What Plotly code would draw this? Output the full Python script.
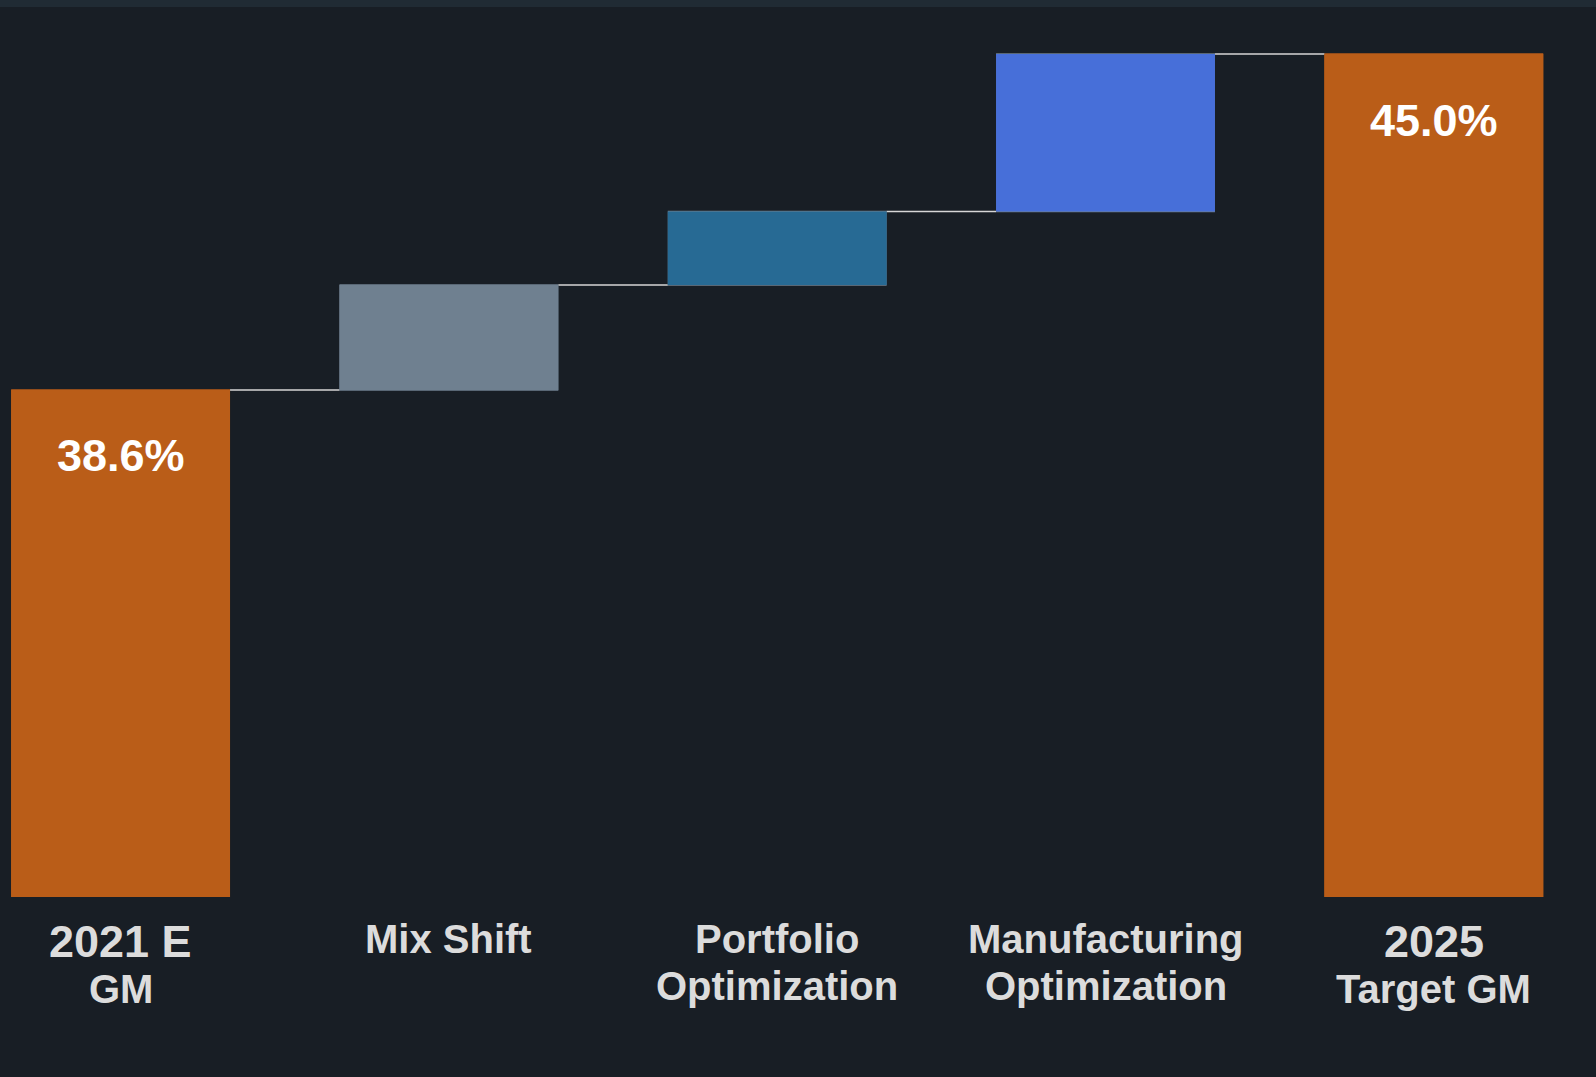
import plotly.graph_objects as go

# data
categories = ["2021 E GM", "Mix Shift", "Portfolio Optimization",
              "Manufacturing Optimization", "2025 Target GM"]
measures = ["absolute", "relative", "relative", "relative", "total"]
values = [38.6, 2.0, 1.4, 3.0, 0]
totals = [38.6, None, None, None, 45.0]
bar_colors = ["#BA5D18", "#6F8090", "#276A94", "#476FD9", "#BA5D18"]
label_line1 = ["2021 E", "Mix Shift", "Portfolio", "Manufacturing", "2025"]
label_line2 = ["GM", "", "Optimization", "Optimization", "Target GM"]

FONT = "Liberation Sans Narrow, Arial Narrow, Liberation Sans, Arial, sans-serif"
BG = "#181e25"
BAR_W = 0.6667

fig = go.Figure()
# waterfall gives the step connectors
fig.add_trace(
    go.Waterfall(
        x=categories,
        y=values,
        measure=measures,
        width=BAR_W,
        connector=dict(mode="between", line=dict(color="#d6d6d6", width=1.5)),
        increasing=dict(marker=dict(color=bar_colors[1])),
        totals=dict(marker=dict(color=bar_colors[0])),
        hoverinfo="skip",
        showlegend=False,
    )
)

# each bar has its own colour, so draw the bars again as a plain bar trace on top
bases = []
heights = []
running = 0
for m, v, t in zip(measures, values, totals):
    if m == "absolute":
        bases.append(0)
        heights.append(v)
        running = v
    elif m == "relative":
        bases.append(running)
        heights.append(v)
        running += v
    else:
        bases.append(0)
        heights.append(t)
fig.add_trace(
    go.Bar(
        x=categories,
        y=heights,
        base=bases,
        width=BAR_W,
        marker=dict(color=bar_colors, line=dict(width=0)),
        hoverinfo="skip",
        showlegend=False,
    )
)

# value labels inside the total bars
for cat, t in zip(categories, totals):
    if t is None:
        continue
    fig.add_annotation(
        x=cat, y=t, yshift=-66, text=f"<b>{t:.1f}%</b>",
        showarrow=False, yanchor="middle",
        font=dict(family=FONT, size=45, color="#ffffff"),
    )

# category labels (two lines, tight spacing)
for i, cat in enumerate(categories):
    big = measures[i] != "relative"
    fig.add_annotation(
        x=cat, y=0, yref="paper", yshift=-44 if big else -42,
        text=f"<b>{label_line1[i]}</b>", showarrow=False, yanchor="middle",
        font=dict(family=FONT, size=45 if big else 40, color="#dcdcdc"),
    )
    if label_line2[i]:
        fig.add_annotation(
            x=cat, y=0, yref="paper", yshift=-92 if big else -89,
            text=f"<b>{label_line2[i]}</b>", showarrow=False, yanchor="middle",
            font=dict(family=FONT, size=40, color="#dcdcdc"),
        )

# thin lighter strip along the top edge
fig.add_shape(type="rect", xref="paper", yref="paper", x0=0, x1=1,
              y0=1 - 7 / 897, y1=1, fillcolor="#202b34", line_width=0,
              layer="below")

fig.update_layout(
    width=1596,
    height=1077,
    margin=dict(l=0, r=0, t=0, b=180),
    paper_bgcolor=BG,
    plot_bgcolor=BG,
    barmode="overlay",
    xaxis=dict(range=[-0.3673, 4.494], showticklabels=False, showgrid=False,
               zeroline=False, showline=False),
    yaxis=dict(range=[28.94, 46.03], visible=False, showgrid=False),
)

fig.write_html(
    "out.html",
    config={"displayModeBar": False},
    post_script="document.body.style.margin='0';"
                "document.body.style.background='%s';" % BG,
)
